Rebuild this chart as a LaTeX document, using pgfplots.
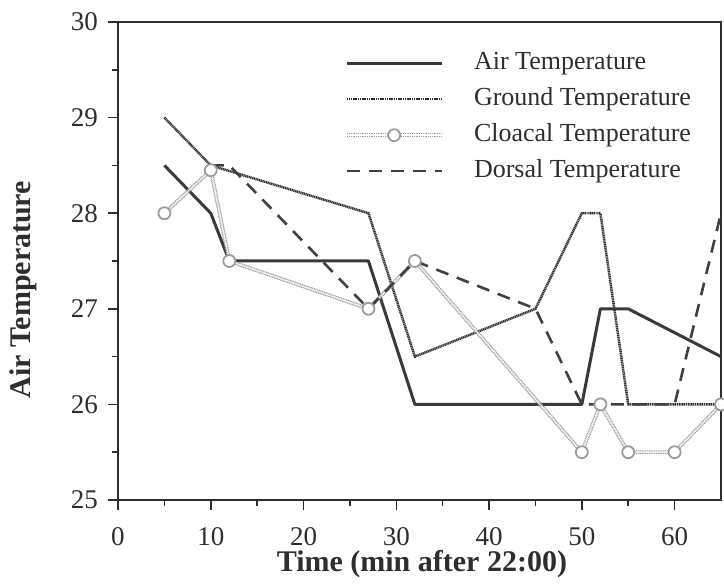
\documentclass[border=0pt]{standalone}
\usepackage{fontspec}
\setmainfont{Liberation Serif}
\usepackage{pgfplots}
\pgfplotsset{compat=1.18}

\definecolor{ink}{HTML}{2E2E2E}
\definecolor{airc}{HTML}{3A3A3A}
\definecolor{groundc}{HTML}{303030}
\definecolor{cloacc}{HTML}{9C9C9C}
\definecolor{dorsc}{HTML}{404040}

\begin{document}
\begin{tikzpicture}
\begin{axis}[
  scale only axis, width=603pt, height=478pt,
  xmin=0, xmax=65, ymin=25, ymax=30,
  xtick={0,10,...,60}, minor x tick num=1,
  ytick={25,26,...,30}, minor y tick num=1,
  xtick pos=bottom, ytick pos=left,
  tick align=outside,
  major tick length=10pt, minor tick length=6pt,
  axis line style={ink, line width=1.8pt},
  every tick/.style={ink, line width=1.6pt},
  /pgf/number format/assume math mode=true,
  tick label style={font=\fontsize{27}{32}\selectfont, text=ink},
  xticklabel style={inner sep=0pt, anchor=north, yshift=-17pt},
  yticklabel style={inner sep=0pt, anchor=east, xshift=-10pt},
  xlabel={\textbf{Time (min after 22:00)}},
  ylabel={\textbf{Air Temperature}},
  label style={font=\fontsize{30}{34}\selectfont, text=ink},
  xlabel style={at={(axis description cs:0.504,0)}, anchor=base, yshift=-72pt, inner sep=0pt},
  ylabel style={at={(axis description cs:-0.1575,0.44)}, anchor=center, inner sep=0pt},
  legend cell align=left,
  legend style={at={(0.3765,0.9456)}, anchor=north west, draw=none, fill=none,
    inner sep=0pt, row sep=6pt, column sep=28pt,
    font=\fontsize{26}{31}\selectfont, text=ink,
    nodes={inner sep=2pt, text height=19pt, text depth=7pt}},
  legend image code/.code={\draw[mark repeat=2, mark phase=2, #1]
    plot coordinates {(0pt,0pt) (47pt,0pt) (95pt,0pt)};},
]
\addplot[airc, line width=3pt, line join=round] coordinates {
  (5,28.5) (10,28) (12,27.5) (27,27.5) (32,26) (50,26) (52,27) (55,27) (65,26.5)};
\addlegendentry{Air Temperature}
\addplot[groundc, line width=2.5pt, dash pattern=on 1.2pt off 0.6pt] coordinates {
  (5,29) (10,28.5) (27,28) (32,26.5) (45,27) (50,28) (52,28) (55,26) (65,26)};
\addlegendentry{Ground Temperature}
\addplot[cloacc, line width=1.2pt, double=white, double distance=1.4pt,
  dash pattern=on 1.1pt off 0.7pt,
  mark=*, mark size=6pt,
  mark options={solid, fill=white, draw=cloacc, line width=1.8pt, double=none}] coordinates {
  (5,28) (10,28.45) (12,27.5) (27,27) (32,27.5) (50,25.5) (52,26) (55,25.5) (60,25.5) (65,26)};
\addlegendentry{Cloacal Temperature}
\addplot[dorsc, line width=2.6pt, dash pattern=on 13pt off 9pt] coordinates {
  (10,28.5) (12,28.5) (27,27) (32,27.5) (45,27) (50,26) (60,26) (65,28)};
\addlegendentry{Dorsal Temperature}
\end{axis}
\pgfresetboundingbox
\path (-118pt,-85pt) rectangle (606pt,500pt);
\end{tikzpicture}
\end{document}
